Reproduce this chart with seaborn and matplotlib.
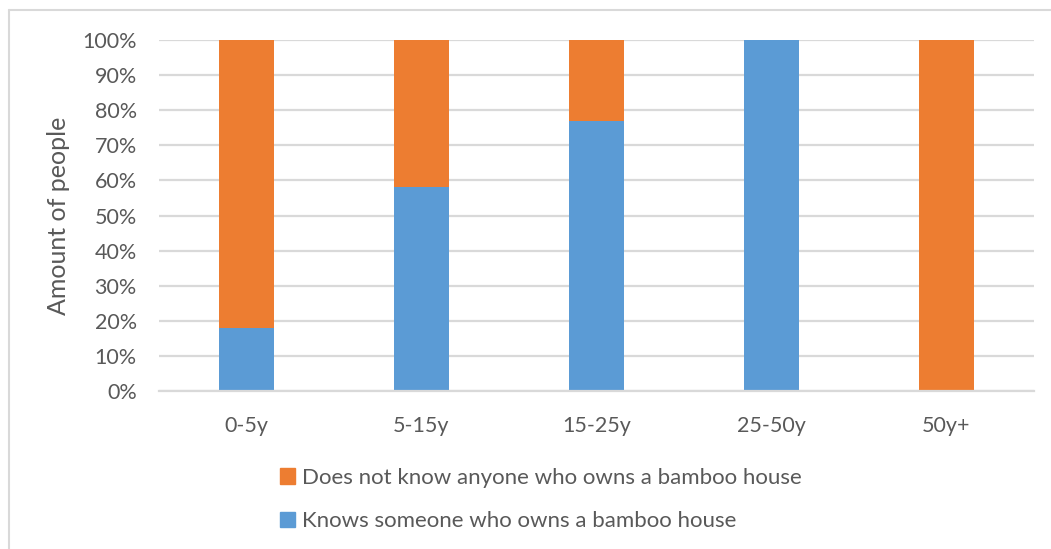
import matplotlib
matplotlib.use('Agg')
import matplotlib.pyplot as plt
import matplotlib.patches as mpatches
from matplotlib.lines import Line2D
import seaborn as sns
import pandas as pd

# Data (share of people, %)
age_groups = ['0-5y', '5-15y', '15-25y', '25-50y', '50y+']
knows = [18, 58, 77, 100, 0]
does_not_know = [82, 42, 23, 0, 100]
label_knows = 'Knows someone who owns a bamboo house'
label_not = 'Does not know anyone who owns a bamboo house'

blue = '#5B9BD5'
orange = '#ED7D31'
text_color = '#595959'
grid_color = '#D9D9D9'

sns.set_style('white')
plt.rcParams['font.family'] = ['Lato', 'DejaVu Sans']

df = pd.DataFrame({'age': age_groups, 'knows': knows, 'not': does_not_know})
df['total'] = df['knows'] + df['not']

fig = plt.figure(figsize=(10.51, 5.49), dpi=100)
ax = fig.add_axes([159 / 1051, 1 - 391 / 549, 875 / 1051, 351 / 549])

# stacked bars: draw total (orange) first, then blue on top
sns.barplot(data=df, x='age', y='total', color=orange, width=0.315,
            saturation=1, linewidth=0, ax=ax, zorder=3)
sns.barplot(data=df, x='age', y='knows', color=blue, width=0.315,
            saturation=1, linewidth=0, ax=ax, zorder=4)

ax.set_ylim(0, 100)
ax.set_xlim(-0.5, len(age_groups) - 0.5)
ax.set_yticks(range(0, 101, 10))
ax.set_yticklabels([f'{v}%' for v in range(0, 101, 10)])
ax.yaxis.grid(True, color=grid_color, linewidth=1.6, zorder=0)
ax.set_axisbelow(True)
for side in ['top', 'right', 'left']:
    ax.spines[side].set_visible(False)
ax.spines['bottom'].set_color(grid_color)
ax.spines['bottom'].set_linewidth(1.6)
ax.spines['bottom'].set_zorder(5)
ax.tick_params(axis='both', length=0, labelsize=15.5, colors=text_color)
ax.tick_params(axis='y', pad=16)
ax.tick_params(axis='x', pad=18)
ax.set_xlabel('')
ax.set_ylabel('Amount of people', fontsize=18, color=text_color, labelpad=9)

# legend below the plot
handles = [mpatches.Patch(color=orange, label=label_not),
           mpatches.Patch(color=blue, label=label_knows)]
fig.legend(handles=handles, loc='upper left', bbox_to_anchor=(271 / 1051, 1 - 459 / 549),
           frameon=False, fontsize=16, labelcolor=text_color, handlelength=0.7,
           handleheight=0.7, handletextpad=0.3, labelspacing=1.05, borderaxespad=0)

# chart frame
fig.add_artist(Line2D([9 / 1051, 9 / 1051], [0, 1 - 10 / 549], transform=fig.transFigure,
                      color=grid_color, linewidth=1.5))
fig.add_artist(Line2D([9 / 1051, 1], [1 - 10 / 549, 1 - 10 / 549], transform=fig.transFigure,
                      color=grid_color, linewidth=1.5))

fig.savefig('out.png', dpi=100)
